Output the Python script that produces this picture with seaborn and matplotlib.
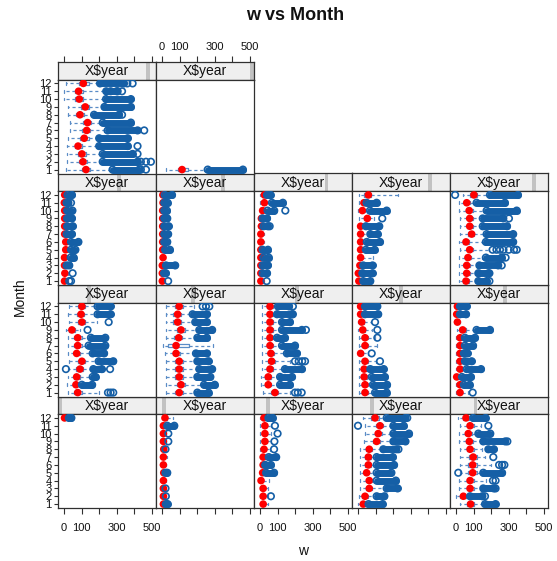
import numpy as np
import pandas as pd
import matplotlib
matplotlib.use("Agg")
import matplotlib.pyplot as plt
from matplotlib.patches import Rectangle
import seaborn as sns

N = None
months = list(range(1, 13))
strip_label = "X$year"
xticks = [0, 100, 200, 300, 400, 500]
xtick_labels = ["0", "100", "", "300", "", "500"]

# statistics per panel (panel 1 = bottom-left, lattice order), months 1..12
MED = [
    [N]*11 + [3],
    [8, 8, 8, 8, 10, 8, 8, 10, 8, 8, 8, 17],
    [18, 18, 18, 6, 15, 18, 18, 23, 28, 28, 28, 23],
    [30, 40, 64, 64, 49, 59, 59, 64, 106, 115, 125, 97],
    [83, 42, 80, 80, 95, 95, 98, 80, 76, 70, 80, 57],
    [78, 68, 72, 91, 102, 72, 78, 78, 45, 102, 97, 102],
    [98, 108, 98, 98, 98, 80, 80, 95, 108, 89, 89, 98],
    [85, 47, 47, 57, 66, 62, 57, 57, 57, 57, 57, 57],
    [40, 40, 35, 35, 40, 15, 40, 40, 27, 21, 15, 15],
    [23, 23, 4, 23, 23, 23, 23, 23, 38, 8, 4, 8],
    [3, 5, 3, 3, 10, 10, 4, 4, 4, 4, 2, 4],
    [2, 2, 2, 6, 4, 4, 4, 4, 4, 4, 6, 5],
    [5, 5, 5, 5, 5, 5, 5, 8, 8, 15, 25, 25],
    [5, 2, 11, 15, 15, 15, 15, 15, 53, 25, 34, 59],
    [57, 61, 61, 68, 78, 57, 89, 78, 78, 75, 61, 102],
    [125, 108, 102, 80, 115, 129, 134, 91, 121, 87, 83, 110],
    [114] + [N]*11,
]
Q1 = [
    [N]*11 + [0],
    [3, 3, 3, 3, 4, 3, 3, 4, 3, 3, 3, 10],
    [10, 10, 10, 0, 8, 8, 10, 12, 15, 15, 15, 12],
    [15, 25, 45, 45, 35, 40, 40, 45, 85, 95, 100, 75],
    [60, 25, 60, 60, 70, 70, 75, 60, 55, 50, 60, 40],
    [55, 50, 55, 70, 80, 55, 55, 55, 30, 80, 75, 80],
    [75, 85, 75, 75, 75, 60, 32, 70, 85, 65, 65, 75],
    [65, 30, 30, 40, 45, 45, 40, 40, 40, 40, 40, 40],
    [25, 25, 20, 20, 25, 5, 25, 25, 15, 10, 5, 5],
    [12, 12, 0, 12, 12, 12, 12, 12, 25, 0, 0, 0],
    [0, 0, 0, 0, 4, 4, 0, 0, 0, 0, 0, 0],
    [0, 0, 0, 2, 0, 0, 0, 0, 0, 0, 0, 0],
    [0, 0, 0, 0, 0, 0, 0, 0, 0, 5, 12, 12],
    [0, 0, 3, 5, 5, 5, 5, 5, 35, 12, 20, 35],
    [40, 45, 45, 50, 60, 40, 70, 60, 60, 55, 45, 80],
    [100, 85, 80, 60, 90, 105, 110, 70, 95, 65, 60, 85],
    [89] + [N]*11,
]
Q3 = [
    [N]*11 + [12],
    [15, 14, 14, 14, 16, 14, 14, 16, 14, 14, 16, 28],
    [28, 28, 28, 15, 25, 25, 28, 32, 38, 38, 38, 32],
    [45, 55, 80, 80, 65, 75, 75, 80, 125, 135, 145, 120],
    [105, 60, 100, 105, 120, 120, 120, 100, 95, 90, 100, 75],
    [100, 85, 90, 110, 120, 90, 100, 100, 60, 120, 115, 120],
    [120, 130, 120, 120, 120, 105, 155, 115, 130, 110, 110, 120],
    [105, 65, 65, 75, 85, 80, 75, 75, 75, 75, 75, 75],
    [55, 55, 50, 50, 55, 30, 55, 55, 40, 35, 30, 30],
    [35, 35, 15, 35, 35, 35, 35, 35, 55, 15, 12, 15],
    [10, 12, 10, 10, 18, 18, 12, 12, 12, 12, 10, 12],
    [8, 8, 8, 12, 10, 10, 10, 10, 10, 10, 12, 12],
    [12, 12, 12, 12, 12, 12, 12, 15, 15, 25, 35, 35],
    [15, 12, 20, 25, 25, 25, 25, 25, 65, 38, 45, 75],
    [75, 80, 80, 85, 95, 75, 105, 95, 95, 95, 80, 120],
    [150, 130, 125, 105, 140, 150, 155, 115, 145, 110, 110, 140],
    [146] + [N]*11,
]
WLO = [
    [N]*11 + [-10],
    [0, 0, 0, 0, 0, 0, 0, 0, 0, 0, 0, 2],
    [0, 0, 0, -5, 0, 0, 0, 0, 0, 0, 0, 0],
    [0, 5, 10, 10, 10, 10, 10, 10, 35, 40, 40, 30],
    [20, 0, 15, 15, 20, 20, 25, 20, 15, 15, 20, 10],
    [20, 15, 20, 25, 30, 20, 20, 20, 10, 30, 25, 30],
    [20, 20, 20, 20, 20, 15, 4, 20, 25, 20, 20, 25],
    [15, 5, 5, 10, 10, 10, 10, 10, 10, 10, 10, 10],
    [5, 5, 5, 5, 5, 0, 5, 5, 0, 0, 0, 0],
    [0, 0, -5, 0, 0, 0, 0, 0, 5, -5, -5, -5],
    [-5, -5, -5, -5, 0, 0, -5, -5, -5, -5, -5, -5],
    [-5, -5, -5, -3, -5, -5, -5, -5, -5, -5, -5, -5],
    [-5, -5, -5, -5, -5, -5, -5, -5, -5, 0, 0, 0],
    [-5, -5, -3, 0, 0, 0, 0, 0, 8, 0, 8, 8],
    [15, 15, 15, 15, 20, 15, 25, 20, 20, 19, 19, 40],
    [13, 17, 15, 15, 21, 34, 34, 21, 21, 2, 2, 10],
    [23] + [N]*11,
]
WHI = [
    [N]*11 + [25],
    [25, 22, 22, 22, 24, 22, 30, 22, 25, 25, 25, 60],
    [45, 45, 45, 50, 35, 35, 45, 55, 60, 60, 60, 45],
    [55, 95, 150, 100, 100, 100, 100, 130, 185, 185, 190, 150],
    [150, 75, 145, 170, 145, 200, 165, 150, 140, 115, 140, 90],
    [200, 95, 150, 150, 180, 150, 130, 140, 90, 190, 170, 170],
    [185, 220, 185, 195, 185, 180, 291, 185, 195, 175, 160, 180],
    [170, 100, 100, 130, 170, 140, 115, 85, 115, 115, 85, 90],
    [85, 75, 70, 60, 100, 55, 110, 95, 80, 75, 35, 35],
    [70, 40, 30, 55, 45, 40, 45, 45, 100, 25, 20, 20],
    [20, 25, 15, 25, 30, 30, 15, 18, 18, 18, 15, 20],
    [15, 12, 15, 15, 15, 12, 12, 12, 12, 12, 13, 15],
    [25, 15, 15, 18, 15, 20, 20, 20, 15, 35, 55, 35],
    [25, 20, 25, 83, 40, 45, 60, 40, 90, 60, 45, 225],
    [110, 110, 120, 150, 190, 150, 160, 140, 140, 160, 100, 180],
    [260, 205, 205, 185, 185, 230, 205, 160, 215, 225, 225, 190],
    [239] + [N]*11,
]
# dense runs of outliers (first / last value of each run)
OUT_LO = [
    [N]*11 + [28],
    [22, N, N, N, 20, N, N, N, N, N, 30, N],
    [N, N, N, N, 35, 30, 50, N, N, N, N, 48],
    [60, 106, 163, 106, 106, 106, 106, 144, 201, 201, 201, 163],
    [165, 80, 155, N, 155, N, N, 184, 155, 127, N, 98],
    [N, 102, 163, 167, 197, 163, 140, 153, N, N, 191, 191],
    [201, 239, 201, 212, 201, 193, N, 201, 212, 189, 174, N],
    [N, 114, 114, 142, N, 153, 125, 97, 125, 125, 97, 102],
    [97, 85, 78, 70, N, N, N, N, N, N, 40, 40],
    [N, 45, 34, 61, 51, 45, 51, 51, 117, N, 23, 23],
    [N, N, 15, 38, 40, 40, 15, 18, 18, 18, 15, 20],
    [N, 12, 23, N, 18, 13, 13, 13, 13, 13, 13, 15],
    [N, 15, 15, 20, 15, N, N, 20, 15, 43, 68, 40],
    [30, 25, 30, N, 45, 50, 70, 45, N, 68, 49, N],
    [127, 127, 133, 170, N, 170, 174, 152, 152, 174, 117, 193],
    [276, 220, 220, 200, 200, 248, 220, 171, 230, 239, 240, 205],
    [260] + [N]*11,
]
OUT_HI = [
    [N]*11 + [42],
    [32, N, N, N, 30, N, N, N, N, N, 70, N],
    [N, N, N, N, 80, 62, 92, N, N, N, N, 72],
    [140, 150, 225, 215, 190, 205, 198, 218, 270, 290, 260, 270],
    [225, 150, 215, N, 262, N, N, 215, 280, 195, N, 168],
    [N, 160, 180, 215, 280, 228, 235, 235, N, N, 265, 265],
    [265, 300, 275, 285, 265, 255, N, 255, 285, 255, 255, N],
    [N, 170, 182, 238, N, 210, 199, 142, 238, 170, 182, 165],
    [163, 165, 153, 146, N, N, N, N, N, N, 115, 110],
    [N, 78, 85, 142, 89, 66, 97, 108, 193, N, 57, 61],
    [N, N, 30, 55, 65, 82, 45, 50, 45, 48, 25, 45],
    [N, 22, 75, N, 45, 30, 35, 38, 30, 28, 32, 57],
    [N, 40, 45, 50, 45, N, N, 45, 40, 81, 130, 60],
    [70, 83, 83, N, 95, 125, 112, 121, N, 163, 106, N],
    [174, 184, 240, 260, N, 325, 325, 290, 269, 345, 278, 352],
    [428, 418, 390, 362, 362, 418, 380, 313, 380, 380, 300, 340],
    [460] + [N]*11,
]
# isolated outliers: (panel, month) -> values
OUT_EXTRA = {
    (2, 2): [22], (2, 3): [20], (2, 8): [20], (2, 9): [36], (2, 10): [36],
    (3, 2): [62], (3, 8): [80], (3, 9): [82], (3, 10): [100], (3, 11): [85],
    (4, 8): [230], (4, 11): [0], (4, 12): [280],
    (5, 2): [165], (5, 3): [225], (5, 4): [210, 225], (5, 5): [13],
    (5, 6): [245, 262, 275], (5, 7): [212], (5, 9): [292], (5, 11): [184],
    (6, 1): [250, 265, 280], (6, 4): [11, 262], (6, 9): [134], (6, 10): [254],
    (7, 12): [231, 250, 269],
    (8, 1): [199, 215, 237], (8, 5): [199, 220, 240, 256], (8, 9): [261],
    (8, 11): [187], (8, 12): [187],
    (9, 5): [125], (9, 6): [78], (9, 8): [110], (9, 9): [110], (9, 10): [97],
    (10, 1): [95],
    (11, 1): [30, 40], (11, 2): [49], (11, 11): [40],
    (12, 1): [35],
    (13, 1): [38], (13, 8): [55], (13, 10): [144],
    (14, 9): [138],
    (15, 1): [190], (15, 2): [190], (15, 3): [260], (15, 4): [282],
    (15, 5): [208, 230, 250, 270, 300, 330, 345], (15, 9): [301], (15, 12): [-5],
    (16, 1): [437, 466], (16, 2): [437, 466, 494], (16, 3): [418], (16, 4): [418],
    (16, 6): [456], (16, 8): [330], (16, 11): [265, 305, 330], (16, 12): [360, 390],
}

sns.set_theme(style="white")
plt.rcParams["font.family"] = ["Liberation Sans", "DejaVu Sans"]

BLUE = "#155fa6"
BOXC = "#5a8cc6"
RED = "#ff0000"
EDGE = "#303030"

W, H = 557, 561
fig = plt.figure(figsize=(W / 100, H / 100), dpi=100)
fig.patch.set_facecolor("white")


def rect(x, y, w, h):
    return [x / W, 1 - (y + h) / H, w / W, h / H]


X0, Y0, PW, SH, PH = 58, 62, 98, 17.5, 94
RH = SH + PH
XLIM = (-34, 523)
YLIM = (0.5, 12.5)
NP = 17

for p in range(NP):
    pid = p + 1
    rb, c = p // 5, p % 5
    rt = 3 - rb
    x = X0 + c * PW
    ys = Y0 + rt * RH
    sax = fig.add_axes(rect(x, ys, PW, SH))
    ax = fig.add_axes(rect(x, ys + SH, PW, PH))

    # strip
    sax.set_facecolor("#efefef")
    sax.set_xlim(*XLIM)
    sax.set_ylim(0, 1)
    bw = 0.04
    bx = (p / (NP - 1)) * (1 - bw)
    sax.add_patch(Rectangle((bx, 0), bw, 1, transform=sax.transAxes,
                            color="#c2c2c2", lw=0, zorder=1))
    sax.text(0.5, 0.47, strip_label, transform=sax.transAxes, ha="center",
             va="center", fontsize=10, color="#111111", zorder=2)
    sax.set_yticks([])
    for sp in sax.spines.values():
        sp.set_color(EDGE)
        sp.set_linewidth(0.9)

    # boxes
    stats, pos = [], []
    for m in range(12):
        if MED[p][m] is None:
            continue
        stats.append(dict(med=MED[p][m], q1=Q1[p][m], q3=Q3[p][m],
                          whislo=WLO[p][m], whishi=WHI[p][m], fliers=[]))
        pos.append(months[m])
    ax.bxp(stats, positions=pos, orientation="horizontal", widths=0.42,
           showfliers=False, capwidths=0.35, manage_ticks=False,
           boxprops=dict(color=BOXC, linewidth=0.9),
           whiskerprops=dict(color=BOXC, linewidth=0.9, linestyle=(0, (2.5, 2.2))),
           capprops=dict(color=BOXC, linewidth=0.9),
           medianprops=dict(linewidth=0))

    med_df = pd.DataFrame({"w": [MED[p][m - 1] for m in pos], "Month": pos})
    sns.scatterplot(data=med_df, x="w", y="Month", ax=ax, color=RED, s=30,
                    edgecolor="none", legend=False, zorder=3)

    # outliers
    ox, oy = [], []
    for m in range(12):
        lo, hi = OUT_LO[p][m], OUT_HI[p][m]
        if lo is not None:
            ax.hlines(months[m], lo, hi, colors=BLUE, linewidth=5.0,
                      capstyle="round", zorder=4)
            ox += [lo, hi]
            oy += [months[m], months[m]]
        for v in OUT_EXTRA.get((pid, months[m]), []):
            ox.append(v)
            oy.append(months[m])
    if ox:
        out_df = pd.DataFrame({"w": ox, "Month": oy})
        sns.scatterplot(data=out_df, x="w", y="Month", ax=ax, s=22,
                        facecolor="none", edgecolor=BLUE, linewidth=1.2,
                        legend=False, zorder=5)

    ax.set_xlim(*XLIM)
    ax.set_ylim(*YLIM)
    ax.set_xlabel("")
    ax.set_ylabel("")
    ax.set_facecolor("white")
    for sp in ax.spines.values():
        sp.set_color(EDGE)
        sp.set_linewidth(0.9)

    # axes ticks (lattice style alternating)
    ax.set_xticks(xticks)
    ax.set_yticks(months)
    ax.tick_params(axis="both", which="both", direction="out", color=EDGE,
                   width=0.8, labelsize=8, labelcolor="#111111")
    if rb == 0:
        ax.tick_params(axis="x", bottom=True, length=4.5, pad=6,
                       labelbottom=(c % 2 == 0))
        ax.set_xticklabels(xtick_labels)
    else:
        ax.tick_params(axis="x", bottom=False, labelbottom=False)
    if c == 0:
        ax.tick_params(axis="y", left=True, length=3, pad=1.5, labelleft=True,
                       labelsize=8)
        ax.set_yticklabels([str(m) for m in months])
    else:
        ax.tick_params(axis="y", left=False, labelleft=False)

    sax.set_xticks(xticks)
    sax.tick_params(axis="x", bottom=False, labelbottom=False)
    if rb == 3:
        sax.tick_params(axis="x", top=True, direction="out", length=4.5,
                        width=0.8, color=EDGE, labelsize=8, pad=3,
                        labeltop=(c % 2 == 1), labelcolor="#111111")
        sax.set_xticklabels(xtick_labels)

fig.text(295 / W, 1 - 15 / H, "w vs Month", ha="center", va="center",
         fontsize=13, fontweight="bold", color="#111111")
fig.text(303 / W, 1 - 551 / H, "w", ha="center", va="center", fontsize=10,
         color="#111111")
fig.text(20 / W, 1 - 297 / H, "Month", ha="center", va="center", fontsize=10,
         rotation=90, color="#111111")

fig.savefig("out.png", dpi=100, facecolor="white")
